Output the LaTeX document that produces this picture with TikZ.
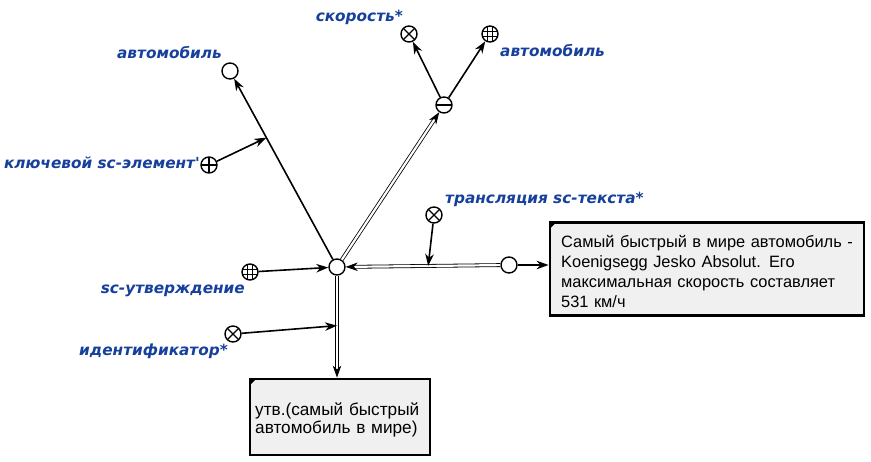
\documentclass[tikz,border=0pt]{standalone}
\usepackage{fontspec}
\setmainfont{Liberation Sans}
\newfontfamily\lblfont{DejaVu Sans}
\usetikzlibrary{arrows.meta,calc}
\definecolor{lblblue}{RGB}{22,64,155}
\tikzset{
 el/.style={circle, draw, line width=1.4pt, minimum size=16pt, inner sep=0pt, fill=white},
 xel/.style={el, path picture={\draw[line width=1.4pt] (path picture bounding box.north west)--(path picture bounding box.south east) (path picture bounding box.north east)--(path picture bounding box.south west);}},
 pel/.style={el, path picture={\draw[line width=1.4pt] (path picture bounding box.north)--(path picture bounding box.south) (path picture bounding box.west)--(path picture bounding box.east);}},
 mel/.style={el, path picture={\draw[line width=1.6pt] (path picture bounding box.west)--(path picture bounding box.east);}},
 gel/.style={el, path picture={\draw[line width=0.9pt]
   ([xshift=-2.6pt]path picture bounding box.north)--([xshift=-2.6pt]path picture bounding box.south)
   ([xshift=2.6pt]path picture bounding box.north)--([xshift=2.6pt]path picture bounding box.south)
   ([yshift=-2.6pt]path picture bounding box.west)--([yshift=-2.6pt]path picture bounding box.east)
   ([yshift=2.6pt]path picture bounding box.west)--([yshift=2.6pt]path picture bounding box.east);}},
 lbl/.style={text=lblblue, font=\lblfont\fontsize{15.3}{17}\selectfont\bfseries\itshape, inner sep=0pt},
 arr/.style={line width=1.6pt, -{Stealth[length=12pt,width=8.5pt,inset=3.8pt]}},
 dbl/.style={double, double distance=2.2pt, line width=0.8pt, -{Stealth[length=12pt,width=8.5pt,inset=3.8pt]}},
 frame/.style={draw, line width=2.8pt, fill=black!6, inner sep=0pt},
 boxtext/.style={text width=300pt, align=left, inner sep=0pt, anchor=base west}
}
\begin{document}
\begin{tikzpicture}[x=1pt,y=-1pt]
\useasboundingbox[fill=white] (0,0) rectangle (871,461);
% element nodes
\node[el]  (C)  at (337,267) {};
\node[el]  (A1) at (230,71) {};
\node[pel] (K)  at (209,165) {};
\node[mel] (M)  at (444,105) {};
\node[xel] (X1) at (409,34) {};
\node[gel] (G1) at (490,34) {};
\node[xel] (T)  at (434,215) {};
\node[el]  (R)  at (509,265) {};
\node[gel] (S)  at (250,272) {};
\node[xel] (I)  at (233,334) {};
% text boxes
\node[frame, minimum width=314pt, minimum height=93pt] (B1) at (707,269) {};
\node[boxtext, font=\fontsize{16.4}{20}\selectfont] (B1t) at (561,247)
 {Самый быстрый в мире автомобиль -\\Koenigsegg Jesko Absolut. Его\\максимальная скорость составляет\\531 км/ч};
\node[frame, minimum width=180pt, minimum height=76pt] (B2) at (340,417) {};
\node[boxtext, font=\fontsize{17.2}{18.5}\selectfont] (B2t) at (255,415)
 {утв.(самый быстрый\\автомобиль в мире)};
\fill ([shift={(1.4pt,-1.4pt)}]B1.north west) -- ++(6,0) -- ++(-6,6) -- cycle;
\fill ([shift={(1.4pt,-1.4pt)}]B2.north west) -- ++(6,0) -- ++(-6,6) -- cycle;
% labels
\node[lbl, anchor=east] (L1) at (403,17) {скорость*};
\node[lbl, anchor=west] (L2) at (500,51) {автомобиль};
\node[lbl, anchor=east] (L3) at (222,53) {автомобиль};
\node[lbl, anchor=east] (L4) at (200,163) {ключевой sc-элемент'};
\node[lbl, anchor=west] (L5) at (445,199) {трансляция sc-текста*};
\node[lbl, anchor=east] (L6) at (245,291) {sc-утверждение};
\node[lbl, anchor=east] (L7) at (228,351) {идентификатор*};
% connectors
\draw[arr] (C) -- (A1);
\coordinate (m1) at ($(C)!0.66!(A1)$);
\draw[arr] (K) -- (m1);
\draw[dbl] (C) -- (M);
\draw[arr] (M) -- (X1);
\draw[arr] (M) -- (G1);
\draw[dbl] (R) -- (C);
\coordinate (m2) at ($(R)!0.47!(C)$);
\draw[arr] (T) -- (m2);
\draw[arr] (R) -- (R -| B1.west);
\draw[arr] (S) -- (C);
\coordinate (b2top) at (C |- B2.north);
\draw[dbl] (C) -- (b2top);
\coordinate (m3) at ($(C)!0.53!(b2top)$);
\draw[arr] (I) -- (m3);
\end{tikzpicture}
\end{document}
